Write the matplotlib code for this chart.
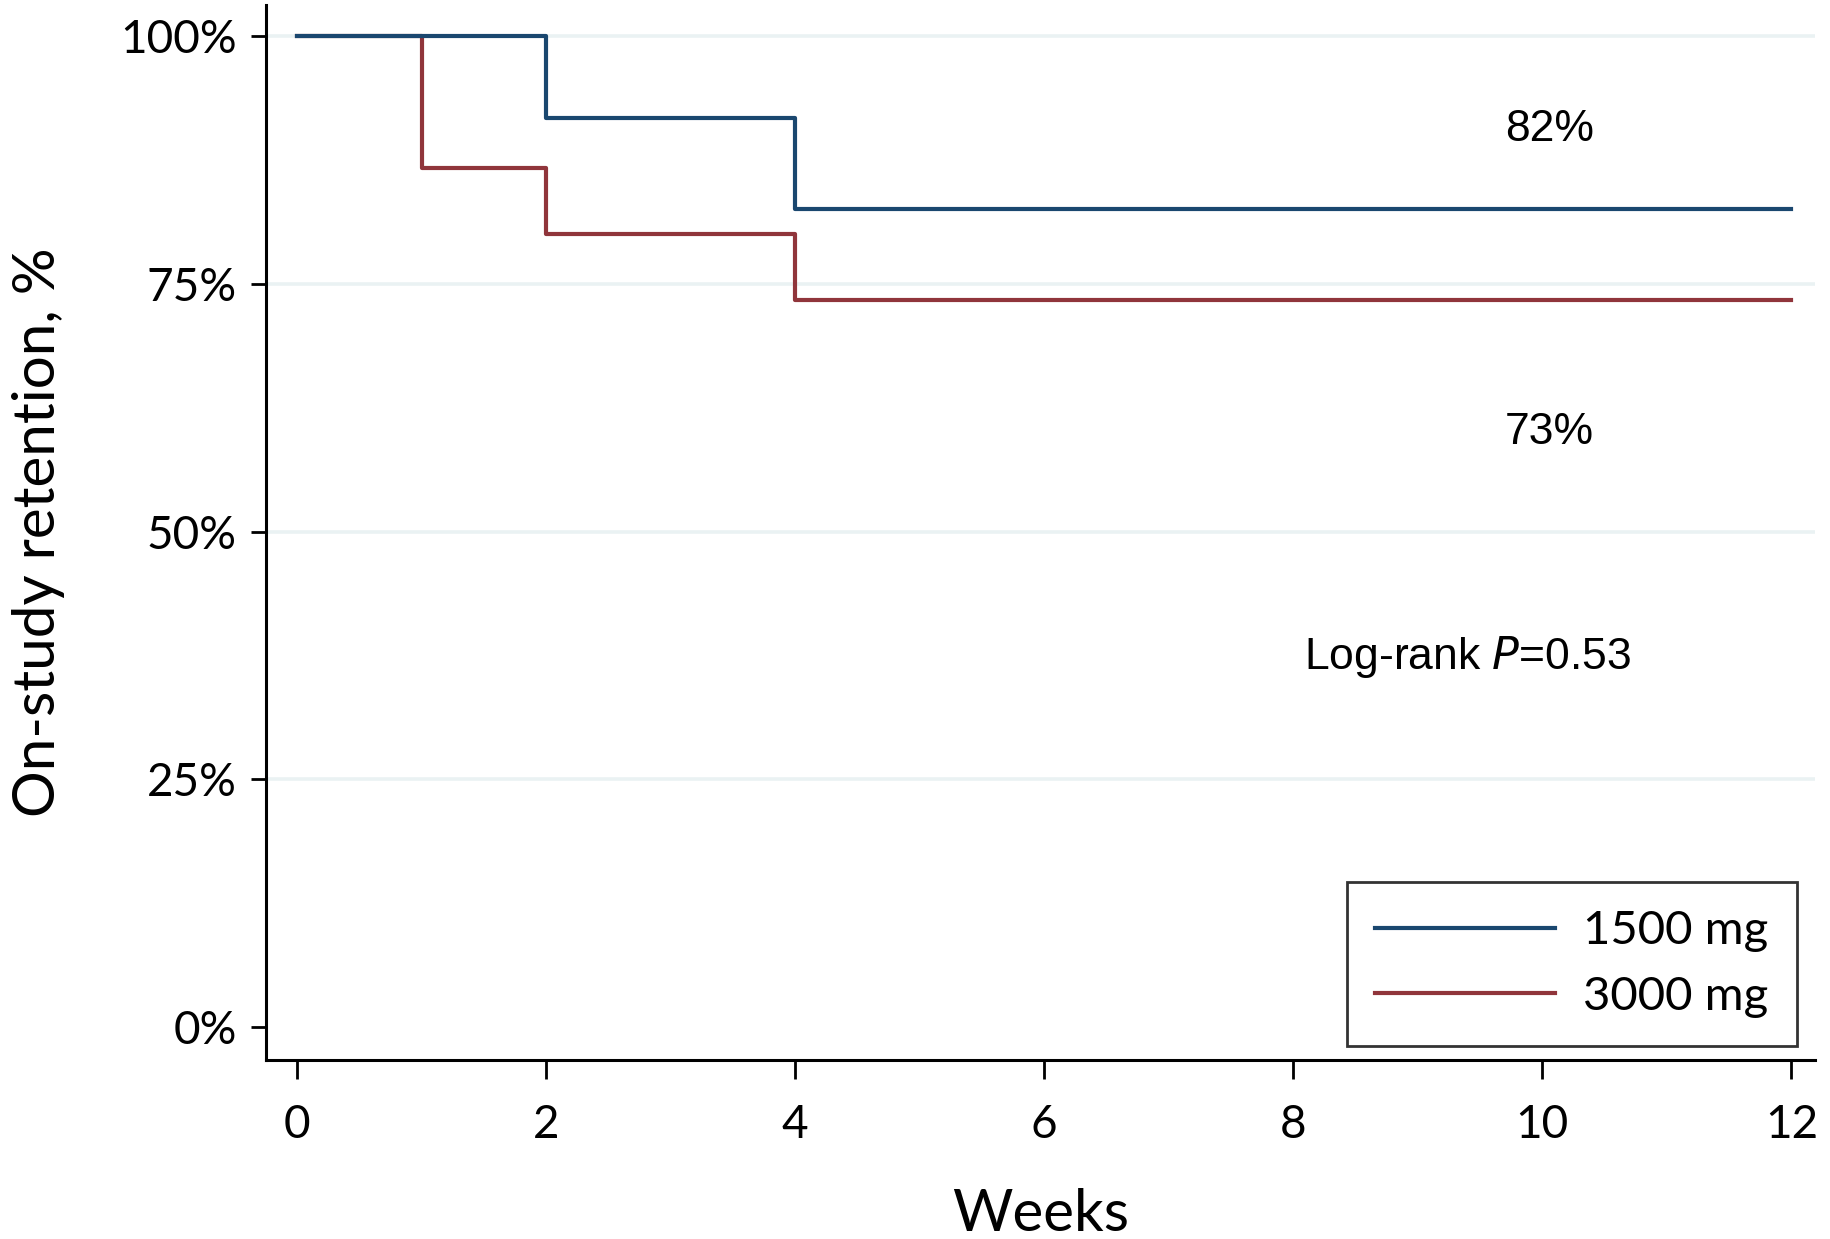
import matplotlib
matplotlib.use("Agg")
import matplotlib.pyplot as plt

# Data
weeks_1500 = [0, 2, 4, 12]
surv_1500 = [1.0, 0.9167, 0.825, 0.825]
weeks_3000 = [0, 1, 2, 4, 12]
surv_3000 = [1.0, 0.8667, 0.80, 0.7333, 0.7333]
series_labels = ["1500 mg", "3000 mg"]
x_ticks = [0, 2, 4, 6, 8, 10, 12]
y_ticks = [0, 0.25, 0.5, 0.75, 1.0]
y_ticklabels = ["0%", "25%", "50%", "75%", "100%"]
annot_1500 = "82%"
annot_3000 = "73%"
pval_text = "Log-rank $\\mathit{P}$=0.53"

W, H = 1830, 1239
fig = plt.figure(figsize=(W / 100, H / 100), dpi=100)
ax = fig.add_axes([266 / W, 1 - 1060 / H, (1815 - 266) / W, (1060 - 5) / H])

tick_font = "Lato"
blue = "#1a476f"
red = "#90353b"

for y in y_ticks[1:]:
    ax.axhline(y, color="#eaf2f3", lw=2.6, zorder=0)

ax.step(weeks_1500, surv_1500, where="post", color=blue, lw=3.0, label=series_labels[0], zorder=3)
ax.step(weeks_3000, surv_3000, where="post", color=red, lw=3.0, label=series_labels[1], zorder=2)

ax.set_xlim(-0.25, 12.19)
ax.set_ylim(-0.033, 1.031)
ax.set_xticks(x_ticks)
ax.set_xticklabels([str(t) for t in x_ticks])
ax.set_yticks(y_ticks)
ax.set_yticklabels(y_ticklabels)

for s in ["top", "right"]:
    ax.spines[s].set_visible(False)
for s in ["left", "bottom"]:
    ax.spines[s].set_linewidth(2.2)

ax.tick_params(axis="x", length=14, width=2.0, pad=18, labelsize=33)
ax.tick_params(axis="y", length=11, width=2.0, pad=10, labelsize=33)
for lab in ax.get_xticklabels() + ax.get_yticklabels():
    lab.set_fontfamily(tick_font)

ax.set_xlabel("Weeks", fontsize=42, fontfamily=tick_font, labelpad=30)
ax.set_ylabel("On-study retention, %", fontsize=42, fontfamily=tick_font, labelpad=40)

ax.text(10.06, 0.905, annot_1500, fontsize=32, fontfamily="Liberation Sans", ha="center", va="center")
ax.text(10.06, 0.60, annot_3000, fontsize=32, fontfamily="Liberation Sans", ha="center", va="center")
ax.text(9.40, 0.373, pval_text, fontsize=32, fontfamily="Liberation Sans", ha="center", va="center")

leg = ax.legend(loc="upper left", bbox_to_anchor=(1347 / W, 1 - 882 / H), bbox_transform=fig.transFigure,
                borderaxespad=0, frameon=True, fancybox=False, handlelength=3.8, handletextpad=0.6,
                labelspacing=0.5, borderpad=0.6, prop={"family": tick_font, "size": 34})
leg.get_frame().set_edgecolor("black")
leg.get_frame().set_linewidth(2.0)

fig.savefig("out.png", dpi=100)
